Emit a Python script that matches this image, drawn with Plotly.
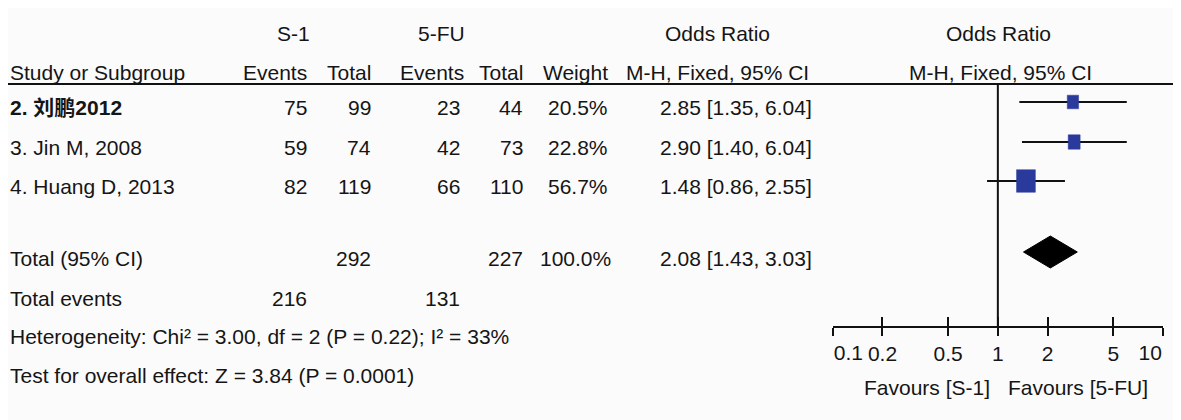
import plotly.graph_objects as go

# ---------------- data ----------------
studies = ["<b>2. 刘鹏2012</b>", "3. Jin M, 2008", "4. Huang D, 2013"]
s1_events = [75, 59, 82]
s1_total = [99, 74, 119]
fu_events = [23, 42, 66]
fu_total = [44, 73, 110]
weights = [20.5, 22.8, 56.7]
or_est = [2.85, 2.90, 1.48]
ci_lo = [1.35, 1.40, 0.86]
ci_hi = [6.04, 6.04, 2.55]

total_s1 = 292
total_fu = 227
total_weight = 100.0
total_events_s1 = 216
total_events_fu = 131
total_or = 2.08
total_lo = 1.43
total_hi = 3.03

heterogeneity = "Heterogeneity: Chi² = 3.00, df = 2 (P = 0.22); I² = 33%"
overall = "Test for overall effect: Z = 3.84 (P = 0.0001)"

tick_vals = [0.1, 0.2, 0.5, 1, 2, 5, 10]
tick_text = ["0.1", "0.2", "0.5", "1", "2", "5", "10"]
null_value = 1
favours_left = "Favours [S-1]"
favours_right = "Favours [5-FU]"

# ---------------- layout constants (pixels, page coordinates) ----------------
W, H = 1181, 420
OFF = 8  # page body margin offset compensation
FONT = "Liberation Sans, Arial, Noto Sans CJK SC, sans-serif"
FS = 21
TXT = "#151515"
BLUE = "#2a3a9c"
BG = "#fbfbfb"

row_y = [107, 147, 186]
mark_off = -5
total_y = 258
events_y = 298
het_y = 336
test_y = 375
hdr1_y = 33
hdr2_y = 72
hdr_line_y = 84
axis_y = 327
favours_y = 387
forest_x0, forest_x1 = 832.7, 1163
px_per_decade = (forest_x1 - forest_x0) / 2

col = dict(s1e=307, s1t=371, fue=460, fut=523, wt=608, orr=812)


def px(x):
    return (x - OFF) / W


fig = go.Figure()

anns = []


def txt(x, y, s, anchor="left", size=FS):
    anns.append(dict(x=px(x), y=y, xref="paper", yref="y", text=s, showarrow=False,
                     xanchor=anchor, yanchor="middle", borderpad=0, borderwidth=0,
                     font=dict(family=FONT, size=size, color=TXT)))


# headers
txt(293, hdr1_y, "S-1", "center")
txt(441, hdr1_y, "5-FU", "center")
txt(717, hdr1_y, "Odds Ratio", "center")
txt(998, hdr1_y, "Odds Ratio", "center")
txt(10, hdr2_y, "Study or Subgroup")
txt(col["s1e"], hdr2_y, "Events", "right")
txt(col["s1t"], hdr2_y, "Total", "right")
txt(col["fue"] + 4, hdr2_y, "Events", "right")
txt(col["fut"], hdr2_y, "Total", "right")
txt(col["wt"], hdr2_y, "Weight", "right")
txt(717, hdr2_y, "M-H, Fixed, 95% CI", "center")
txt(1000, hdr2_y, "M-H, Fixed, 95% CI", "center")

# study rows
for i, name in enumerate(studies):
    y = row_y[i]
    txt(10, y, name)
    txt(col["s1e"], y, str(s1_events[i]), "right")
    txt(col["s1t"], y, str(s1_total[i]), "right")
    txt(col["fue"], y, str(fu_events[i]), "right")
    txt(col["fut"], y, str(fu_total[i]), "right")
    txt(col["wt"], y, f"{weights[i]:.1f}%", "right")
    txt(col["orr"], y, f"{or_est[i]:.2f} [{ci_lo[i]:.2f}, {ci_hi[i]:.2f}]", "right")

# totals
txt(10, total_y, "Total (95% CI)")
txt(col["s1t"], total_y, str(total_s1), "right")
txt(col["fut"], total_y, str(total_fu), "right")
txt(col["wt"] + 3, total_y, f"{total_weight:.1f}%", "right")
txt(col["orr"], total_y, f"{total_or:.2f} [{total_lo:.2f}, {total_hi:.2f}]", "right")
txt(10, events_y, "Total events")
txt(col["s1e"], events_y, str(total_events_s1), "right")
txt(col["fue"], events_y, str(total_events_fu), "right")
txt(10, het_y, heterogeneity)
txt(10, test_y, overall)

# favours labels
txt(990, favours_y, favours_left, "right")
txt(1008, favours_y, favours_right, "left")

shapes = []
# header underline
shapes.append(dict(type="line", xref="paper", yref="y", x0=px(5), x1=px(W + OFF),
                   y0=hdr_line_y, y1=hdr_line_y, line=dict(color="#111", width=2)))

# null line
fig.add_trace(go.Scatter(x=[null_value, null_value], y=[hdr_line_y, axis_y], mode="lines",
                         line=dict(color="#111", width=2), hoverinfo="skip", showlegend=False))

# CI lines and weight boxes
for i in range(len(studies)):
    y = row_y[i] + mark_off
    fig.add_trace(go.Scatter(x=[ci_lo[i], ci_hi[i]], y=[y, y], mode="lines",
                             line=dict(color="#111", width=2), hoverinfo="skip",
                             showlegend=False))
    w = 2.5 * weights[i] ** 0.5
    h = 3.0 * weights[i] ** 0.5
    f = 10 ** ((w / 2) / px_per_decade)
    xl, xr = or_est[i] / f, or_est[i] * f
    fig.add_trace(go.Scatter(x=[xl, xr, xr, xl, xl],
                             y=[y - h / 2, y - h / 2, y + h / 2, y + h / 2, y - h / 2],
                             mode="lines", fill="toself", fillcolor=BLUE,
                             line=dict(color=BLUE, width=0.5), hoverinfo="skip",
                             showlegend=False))

# diamond
dy = 16
yc = total_y + mark_off - 1
fig.add_trace(go.Scatter(x=[total_lo, total_or, total_hi, total_or, total_lo],
                         y=[yc, yc - dy, yc, yc + dy, yc], mode="lines", fill="toself",
                         fillcolor="#000", line=dict(color="#000", width=1),
                         hoverinfo="skip", showlegend=False))

# invisible traces on overlay axes so they render
for ax in ["x2", "x3", "x4"]:
    fig.add_trace(go.Scatter(x=[1], y=[axis_y], xaxis=ax, mode="markers",
                             marker=dict(opacity=0), hoverinfo="skip", showlegend=False))

dom = [px(forest_x0), px(forest_x1)]
pos = 1 - (axis_y - OFF) / H
rng = [-1.0005, 1.0005]
mid_text = [t if 0 < k < len(tick_vals) - 1 else "" for k, t in enumerate(tick_text)]
common = dict(type="log", range=rng, domain=dom, anchor="free", position=pos,
              showgrid=False, zeroline=False)
tf = dict(family=FONT, size=FS, color=TXT)
fig.update_layout(
    width=W, height=H, autosize=False,
    margin=dict(l=0, r=0, t=0, b=0, pad=0, autoexpand=False),
    paper_bgcolor=BG, plot_bgcolor=BG,
    xaxis=dict(**common, showline=True, linecolor="#111", linewidth=2,
               ticks="outside", ticklen=8, tickwidth=2, tickcolor="#111",
               tickvals=tick_vals, ticktext=mid_text, ticklabelstandoff=0, tickfont=tf),
    xaxis2=dict(**common, overlaying="x", showline=False, ticks="inside", ticklen=10,
                tickwidth=2, tickcolor="#111", tickvals=tick_vals, showticklabels=False),
    xaxis3=dict(**common, overlaying="x", showline=False, ticks="outside", ticklen=8,
                tickwidth=2, tickcolor="rgba(0,0,0,0)", tickvals=tick_vals[:1],
                ticktext=tick_text[:1], ticklabelposition="outside right",
                ticklabelstandoff=7, tickfont=tf),
    xaxis4=dict(**common, overlaying="x", showline=False, ticks="outside", ticklen=8,
                tickwidth=2, tickcolor="rgba(0,0,0,0)", tickvals=tick_vals[-1:],
                ticktext=tick_text[-1:], ticklabelposition="outside left",
                ticklabelstandoff=7, tickfont=tf),
    yaxis=dict(range=[H + OFF, OFF], domain=[0, 1], visible=False, showgrid=False),
    annotations=anns, showlegend=False, shapes=shapes,
)

fig.write_html("out.html")
